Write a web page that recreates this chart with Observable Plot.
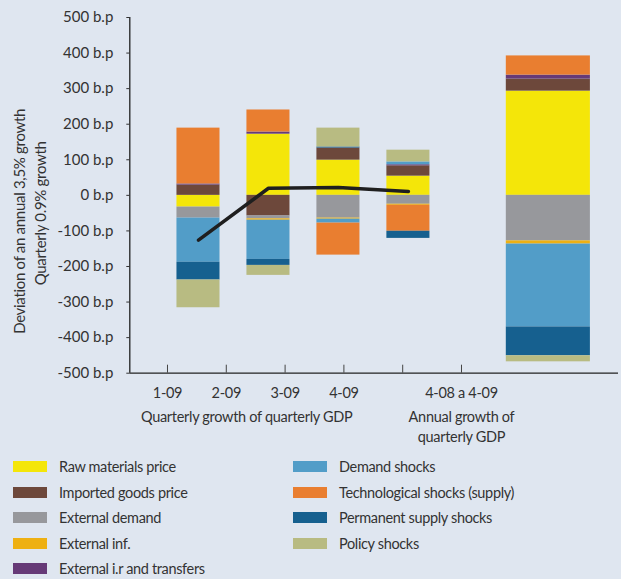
<!DOCTYPE html>
<html><head><meta charset="utf-8">
<script src="https://cdn.jsdelivr.net/npm/d3@7"></script>
<script src="https://cdn.jsdelivr.net/npm/@observablehq/plot@0.6"></script>
<style>
html,body{margin:0;padding:0;background:#dfe6f0;}
body{width:621px;height:579px;overflow:hidden;font-family:Lato,sans-serif;color:#333;}
#legend{display:grid;grid-template-columns:280px 320px;grid-template-rows:repeat(5,25.4px);grid-auto-flow:column;padding-left:13px;padding-top:4.3px;font-size:14.5px;letter-spacing:-0.35px;}
.item{display:flex;align-items:center;white-space:nowrap;}
.sw{width:34px;height:11px;margin-right:12px;flex:none;}
</style></head><body>
<div id="chart"></div><div id="legend"></div>
<script>
// ---- data ----
const categories = ["1-09", "2-09", "3-09", "4-09", "4-08 a 4-09"];
const series = ["Raw materials price", "Imported goods price", "External demand", "External inf.",
  "External i.r and transfers", "Demand shocks", "Technological shocks (supply)",
  "Permanent supply shocks", "Policy shocks"];
const rawMaterials   = [-33, 172,  99,  54,  293];
const importedGoods  = [ 29, -58,  34,  29,   34];
const externalDemand = [-31,  -8, -64, -25, -128];
const externalInf    = [  0,  -4,  -3,  -3,   -9];
const externalIr     = [  3,   6,   0,   3,   11];
const demandShocks   = [-124, -110, -11,  8, -233];
const techShocks     = [157,  62, -90, -73,   54];
const permanentShocks= [-50, -17,   3, -20,  -81];
const policyShocks   = [-78, -28,  53,  33,  -17];
const gdpDeviation   = [-126, 20,  22,  11];       // black line, quarterly bars only
const tickLabels = ["1-09", "2-09", "3-09", "4-09", "", "4-08 a 4-09"];
const yTicks = d3.range(-500, 501, 100);
const colors = ["#f4e609", "#6d483b", "#97989c", "#eeb012", "#663a77", "#529dc8", "#e97e30", "#16608f", "#b8bb82"];

const values = [rawMaterials, importedGoods, externalDemand, externalInf, externalIr,
  demandShocks, techShocks, permanentShocks, policyShocks];

// ---- layout helpers (x in "tick units") ----
const u0 = 0.359, u1 = 8.67;
const slotOf = i => (i < 4 ? i : i + 1);        // gap before the annual bar
const center = i => 1.527 + 1.19 * slotOf(i);
const halfW = i => (i < 4 ? 0.366 : 0.715);

// manual stacking (positives up, negatives down, in series order)
const rects = [];
categories.forEach((c, i) => {
  let pos = 0, neg = 0;
  series.forEach((s, k) => {
    const v = values[k][i];
    if (!v) return;
    let y1, y2;
    if (v >= 0) { y1 = pos; y2 = pos + v; pos = y2; }
    else { y1 = neg; y2 = neg + v; neg = y2; }
    rects.push({cat: c, series: s, x1: center(i) - halfW(i), x2: center(i) + halfW(i), y1, y2});
  });
});
const lineData = gdpDeviation.map((v, i) => ({x: center(i), y: v}));
const tickData = tickLabels.map((t, j) => ({u: j + 1, t}));

const lbl = {fill: "#333", fontSize: 14.5, lineAnchor: "middle", frameAnchor: "bottom"};
const plot = Plot.plot({
  width: 621, height: 450,
  marginLeft: 129.3, marginRight: 3, marginTop: 17, marginBottom: 77.3,
  style: {background: "transparent", fontFamily: "Lato, sans-serif", fontSize: "15px", color: "#333"},
  x: {domain: [u0, u1], axis: null},
  y: {domain: [-500, 500], ticks: yTicks, tickFormat: d => `${d} b.p`, tickSize: 3, tickPadding: 13.5, label: null},
  color: {domain: series, range: colors},
  marks: [
    Plot.rect(rects, {x1: "x1", x2: "x2", y1: "y1", y2: "y2", fill: "series"}),
    Plot.line(lineData, {x: "x", y: "y", stroke: "#1f1f1f", strokeWidth: 3.5}),
    Plot.ruleX([u0], {stroke: "#222", strokeWidth: 1.3}),
    Plot.ruleY([-500], {stroke: "#222", strokeWidth: 1.3}),
    Plot.ruleX(tickData, {x: "u", y1: -500, y2: -477.5, stroke: "#444", strokeWidth: 1}),
    Plot.text(tickData, {x: "u", text: "t", dy: 20, ...lbl}),
    Plot.text(["Quarterly growth of quarterly GDP"], {x: 2.5, dx: -9, dy: 44, ...lbl}),
    Plot.text(["Annual growth of"], {x: 6, dy: 44, ...lbl}),
    Plot.text(["quarterly GDP"], {x: 6, dy: 64, ...lbl}),
    Plot.text(["Deviation of an annual 3,5% growth"], {frameAnchor: "left", textAnchor: "middle", rotate: -90, dx: -110, dy: 26, fill: "#333"}),
    Plot.text(["Quarterly 0.9% growth"], {frameAnchor: "left", textAnchor: "middle", rotate: -90, dx: -89, dy: 18, fill: "#333"})
  ]
});
plot.querySelectorAll("text").forEach(t => { if (t.closest("[aria-label='text']")) t.style.letterSpacing = "-0.3px"; });
document.getElementById("chart").appendChild(plot);

const legend = document.getElementById("legend");
series.forEach((s, k) => {
  const item = document.createElement("div");
  item.className = "item";
  const sw = document.createElement("span");
  sw.className = "sw";
  sw.style.background = colors[k];
  item.appendChild(sw);
  item.appendChild(document.createTextNode(s));
  legend.appendChild(item);
});
</script>
</body></html>
